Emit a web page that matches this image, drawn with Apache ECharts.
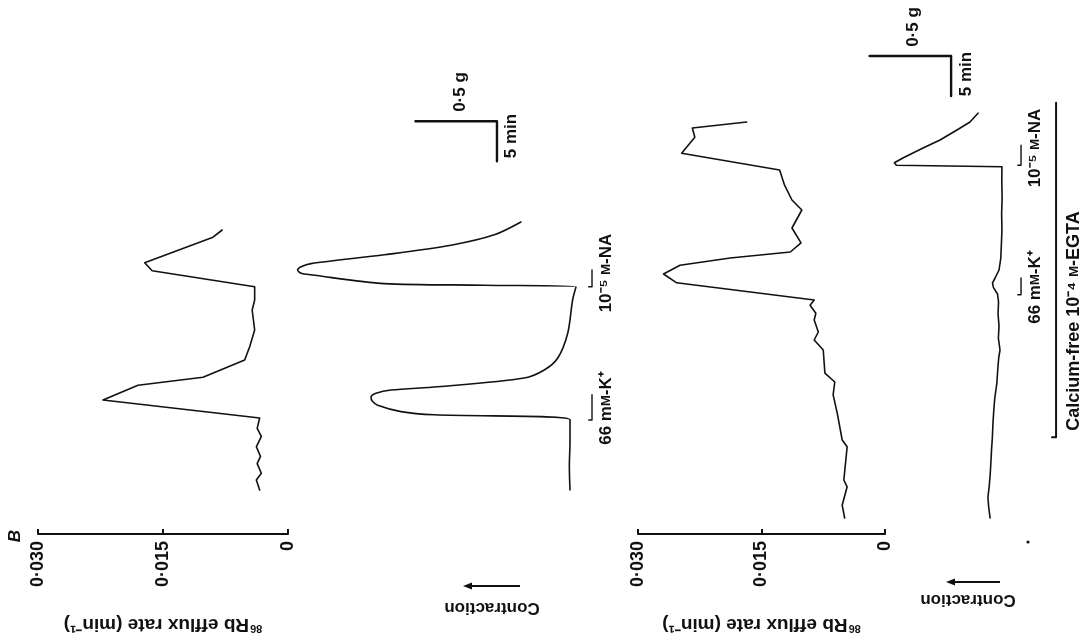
<!DOCTYPE html>
<html>
<head>
<meta charset="utf-8">
<script src="https://cdn.jsdelivr.net/npm/echarts@6/dist/echarts.min.js"></script>
<style>
  html, body { margin: 0; padding: 0; background: #fff; }
  #main { width: 1090px; height: 644px; }
</style>
</head>
<body>
<div id="main"></div>
<script>
// 86Rb efflux and tension records (time in min from start of record).
// Normal solution: 66 mM-K+ then 1e-5 M noradrenaline.
const effluxNormalTime = [0, 1.25, 2.1, 3.3, 4.2, 5.4, 6.7, 7.7, 9.0, 11.25, 13.1, 14.1, 16.25, 17.9, 20.0, 22.5, 23.75, 25.4, 27.4, 28.4, 31.6, 32.5];
const effluxNormalRate = [0.0034, 0.0038, 0.0032, 0.0037, 0.0033, 0.0038, 0.0032, 0.0037, 0.0034, 0.0222, 0.0180, 0.0102, 0.0052, 0.0046, 0.0040, 0.0043, 0.0040, 0.0040, 0.0163, 0.0172, 0.0090, 0.0079];

const tensionNormalTime = [0, 3, 6, 8.8, 9.4, 9.8, 10.6, 11.1, 11.6, 12.1, 12.5, 12.9, 14.0, 15.0, 16.5, 19.6, 23.75, 25.4, 25.6, 25.8, 26.9, 27.1, 27.5, 27.9, 28.3, 29.4, 30.6, 31.9, 33.5];
const tensionNormalGrams = [0, 0.004, 0, 0, 0.832, 1.037, 1.18, 1.212, 1.221, 1.19, 1.098, 0.812, 0.280, 0.158, 0.075, 0.014, -0.016, -0.037, 0.526, 1.139, 1.589, 1.650, 1.671, 1.650, 1.589, 1.139, 0.730, 0.464, 0.301];

// Calcium-free 1e-4 M-EGTA solution.
const effluxEgtaTime = [0, 1.6, 3.9, 4.75, 8.9, 9.75, 13.1, 15.4, 17, 18.1, 21, 22.25, 23.25, 24.75, 25.6, 26.6, 27.25, 29.4, 30.5, 31.6, 32.5, 33.25, 34.4, 36.25, 38.5, 39.75, 41.6, 43.5, 45.6, 47.6, 48.75, 49.5];
const effluxEgtaRate = [0.0049, 0.0052, 0.0046, 0.0050, 0.0046, 0.0052, 0.0058, 0.0063, 0.0061, 0.0073, 0.0075, 0.0086, 0.0081, 0.0086, 0.0084, 0.0091, 0.0086, 0.0253, 0.0269, 0.0249, 0.0188, 0.0115, 0.0102, 0.0113, 0.0101, 0.0113, 0.0122, 0.0128, 0.0247, 0.0231, 0.0234, 0.0168];

const tensionEgtaTime = [0, 1.5, 2.6, 4, 5.5, 6.9, 8.5, 10, 11.9, 13.5, 15, 16.9, 18.5, 20, 21, 22.5, 24, 25.5, 27, 28, 28.8, 29.4, 30, 31, 32.5, 34, 36, 38, 40, 42, 43.9, 44.1, 44.4, 45, 46.25, 47.25, 48.5, 49.5, 50.6];
const tensionEgtaGrams = [0.061, 0.070, 0.074, 0.066, 0.060, 0.056, 0.052, 0.047, 0.043, 0.038, 0.032, 0.019, 0.014, 0.008, 0.0, 0.010, 0.006, 0.012, 0.009, 0.015, 0.040, 0.046, 0.030, 0.006, -0.005, -0.008, -0.012, -0.010, -0.013, -0.011, -0.012, 0.636, 0.648, 0.596, 0.472, 0.368, 0.264, 0.184, 0.135];

// Efflux axis ticks
const effluxTicks = [0, 0.015, 0.030];

// Drug application periods [start, end] in min
const normalK = [8.75, 11.9];
const normalNA = [25.4, 27.5];
const egtaK = [27.9, 30.0];
const egtaNA = [44.1, 46.6];
const egtaPeriod = [10.1, 51.9];

// Calibration bars: 0.5 g and 5 min
const barGrams = 0.5;
const barMinutes = 5;

const INK = '#111';
const FONT = '"Liberation Sans", Arial, Helvetica, sans-serif';

function pairs(xs, ts) { return xs.map((v, i) => [v, ts[i]]); }

function trace(name, xi, data, width, smooth) {
  return {
    name, type: 'line', xAxisIndex: xi, yAxisIndex: xi, data,
    showSymbol: false, symbol: 'none', clip: false, silent: true,
    smooth: smooth || false,
    lineStyle: { color: INK, width: width || 1.6, join: 'round', cap: 'round' },
    animation: false
  };
}

function calibration(xi, g0, t0) {
  return trace('calibration', xi, [[g0 + barGrams, t0], [g0, t0], [g0, t0 - barMinutes]], 2.4);
}

function bracket(xi, f, period) {
  return trace('application', xi, [[f + 0.02, period[0]], [f, period[0]], [f, period[1]]], 1.4);
}

const timeAxis = (gi, max) => ({ gridIndex: gi, type: 'value', min: 0, max, show: false });
const forceAxis = (gi, min, max) => ({ gridIndex: gi, type: 'value', min, max, inverse: true, show: false });

function effluxAxis(gi, offset) {
  return {
    gridIndex: gi, type: 'value', min: effluxTicks[0], max: effluxTicks[2], interval: effluxTicks[1],
    inverse: true, position: 'bottom', offset,
    axisLine: { show: true, onZero: false, lineStyle: { color: INK, width: 2 } },
    axisTick: { show: true, inside: true, length: 5, lineStyle: { color: INK, width: 2 } },
    splitLine: { show: false },
    axisLabel: {
      rotate: 90, margin: 7, color: INK, fontFamily: FONT, fontWeight: 'bold', fontSize: 18,
      formatter: v => v === 0 ? '0' : v.toFixed(3).replace('.', '·')
    },
    name: '{sup|86}Rb efflux rate (min⁻¹)', nameLocation: 'middle', nameRotate: 180, nameGap: 80,
    nameTextStyle: {
      color: INK, fontFamily: FONT, fontWeight: 'bold', fontSize: 19,
      rich: { sup: { color: INK, fontFamily: FONT, fontWeight: 'bold', fontSize: 11, padding: [0, 1, 9, 0] } }
    }
  };
}

const richSc = { sc: { fontFamily: FONT, fontWeight: 'bold', fontSize: 13, fill: INK, color: INK } };

function vtext(x, y, text, size) {
  return {
    type: 'text', x, y, rotation: Math.PI / 2, silent: true,
    style: {
      text, fill: INK, fontFamily: FONT, fontWeight: 'bold', fontSize: size || 17,
      align: 'center', verticalAlign: 'middle', rich: richSc
    }
  };
}

function flipText(x, y, text) {
  return {
    type: 'text', x, y, rotation: Math.PI, silent: true,
    style: { text, fill: INK, fontFamily: FONT, fontWeight: 'bold', fontSize: 17, align: 'center', verticalAlign: 'middle' }
  };
}

function arrow(x1, x2, y) {
  return [
    { type: 'line', silent: true, shape: { x1, y1: y, x2: x2 + 6, y2: y }, style: { stroke: INK, lineWidth: 2 } },
    { type: 'polygon', silent: true, shape: { points: [[x2, y], [x2 + 9, y - 3.5], [x2 + 9, y + 3.5]] }, style: { fill: INK } }
  ];
}

const chart = echarts.init(document.getElementById('main'), null, { renderer: 'canvas' });

chart.setOption({
  backgroundColor: '#fff',
  animation: false,
  grid: [
    { left: 38, top: 26, width: 250, height: 464, containLabel: false, outerBoundsMode: 'none' },
    { left: 276.6, top: 26, width: 326, height: 464, containLabel: false, outerBoundsMode: 'none' },
    { left: 638, top: 22, width: 247, height: 496, containLabel: false, outerBoundsMode: 'none' },
    { left: 837, top: 22, width: 260.8, height: 496, containLabel: false, outerBoundsMode: 'none' }
  ],
  xAxis: [
    effluxAxis(0, 44),
    forceAxis(1, -0.2, 1.8),
    effluxAxis(2, 16),
    forceAxis(3, -0.6, 1.0)
  ],
  yAxis: [timeAxis(0, 58), timeAxis(1, 58), timeAxis(2, 62), timeAxis(3, 62)],
  series: [
    trace('efflux normal', 0, pairs(effluxNormalRate, effluxNormalTime)),
    trace('tension normal', 1, pairs(tensionNormalGrams, tensionNormalTime), 1.6, 0.3),
    calibration(1, 0.448, 46.1),
    bracket(1, -0.135, normalK),
    bracket(1, -0.135, normalNA),
    trace('efflux EGTA', 2, pairs(effluxEgtaRate, effluxEgtaTime)),
    trace('tension EGTA', 3, pairs(tensionEgtaGrams, tensionEgtaTime)),
    calibration(3, 0.30, 57.75),
    bracket(3, -0.129, egtaK),
    bracket(3, -0.129, egtaNA),
    trace('EGTA period', 3, [[-0.319, egtaPeriod[0]], [-0.344, egtaPeriod[0]], [-0.344, egtaPeriod[1]]], 2)
  ],
  graphic: [
    { type: 'text', x: 15, y: 536, rotation: Math.PI / 2, silent: true,
      style: { text: 'B', fill: INK, fontFamily: FONT, fontWeight: 'bold', fontStyle: 'italic', fontSize: 17, align: 'center', verticalAlign: 'middle' } },
    vtext(460, 92, '0·5 g'),
    vtext(511, 136, '5 min'),
    vtext(606, 408, '66 m{sc|M}-K⁺'),
    vtext(606, 273, '10⁻⁵ {sc|M}-NA'),
    flipText(492, 608, 'Contraction'),
    ...arrow(520, 463, 586),
    vtext(913, 27, '0·5 g'),
    vtext(966, 74, '5 min'),
    vtext(1035, 148, '10⁻⁵ {sc|M}-NA'),
    vtext(1035, 287, '66 m{sc|M}-K⁺'),
    vtext(1074, 321, 'Calcium-free 10⁻⁴ {sc|M}-EGTA', 18),
    flipText(968, 600, 'Contraction'),
    ...arrow(1000, 946, 582),
    { type: 'circle', silent: true, shape: { cx: 1028, cy: 542, r: 1.6 }, style: { fill: INK } }
  ]
});
</script>
</body>
</html>
